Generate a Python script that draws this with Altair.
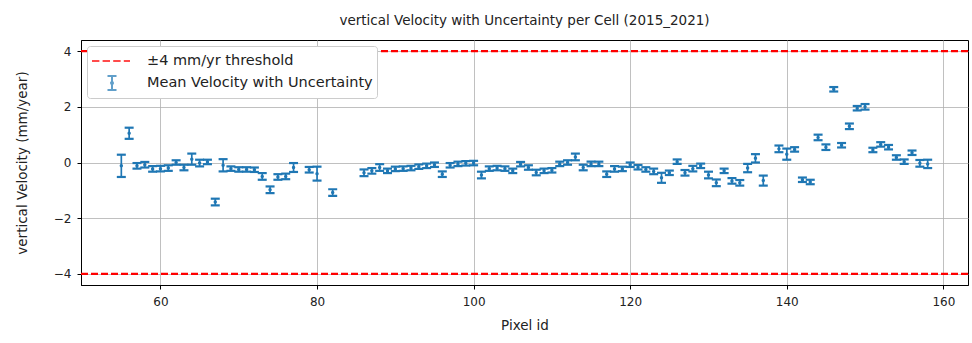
import altair as alt
import pandas as pd

# ---- data ----
pixel_ids = [55, 56, 57, 58, 59, 60, 61, 62, 63, 64, 65, 66, 67, 68, 69, 70, 71, 72, 73, 74,
             75, 76, 77, 79, 80, 82,
             86, 87, 88, 89, 90, 91, 92, 93, 94, 95, 96, 97, 98, 99, 100,
             101, 102, 103, 104, 105, 106, 107, 108, 109, 110, 111, 112, 113, 114, 115,
             116, 117, 118, 119, 120, 121, 122, 123, 124, 125, 126, 127, 128, 129, 130,
             131, 132, 133, 134, 135, 136, 137, 139, 140, 141, 142, 143, 144, 145, 146,
             147, 148, 149, 150, 151, 152, 153, 154, 155, 156, 157, 158]
velocity = [-0.12, 1.05, -0.12, -0.08, -0.23, -0.22, -0.20, 0.00, -0.18, 0.12, -0.02, 0.02, -1.42, -0.10, -0.22, -0.25, -0.25, -0.26, -0.50, -0.98,
            -0.52, -0.50, -0.18, -0.26, -0.40, -1.08,
            -0.37, -0.30, -0.18, -0.30, -0.23, -0.22, -0.20, -0.15, -0.12, -0.08, -0.42, -0.10, -0.05, -0.03, -0.02,
            -0.45, -0.22, -0.20, -0.22, -0.30, -0.06, -0.18, -0.36, -0.30, -0.28, -0.05, 0.00, 0.20, -0.18, -0.05,
            -0.05, -0.42, -0.23, -0.23, -0.08, -0.17, -0.25, -0.32, -0.55, -0.37, 0.03, -0.37, -0.22, -0.12, -0.45,
            -0.73, -0.30, -0.66, -0.73, -0.20, 0.15, -0.65, 0.49, 0.30, 0.47, -0.62, -0.70, 0.90, 0.55, 2.63,
            0.62, 1.30, 1.95, 2.00, 0.45, 0.65, 0.55, 0.18, 0.03, 0.35, -0.03, -0.05]
uncertainty = [0.40, 0.20, 0.10, 0.10, 0.10, 0.10, 0.10, 0.08, 0.10, 0.20, 0.12, 0.08, 0.12, 0.22, 0.08, 0.08, 0.08, 0.08, 0.12, 0.12,
               0.10, 0.10, 0.16, 0.10, 0.25, 0.12,
               0.12, 0.10, 0.12, 0.08, 0.08, 0.08, 0.08, 0.08, 0.08, 0.08, 0.10, 0.08, 0.08, 0.08, 0.08,
               0.12, 0.08, 0.08, 0.08, 0.08, 0.08, 0.08, 0.10, 0.08, 0.08, 0.08, 0.08, 0.12, 0.10, 0.08,
               0.08, 0.10, 0.10, 0.08, 0.08, 0.08, 0.08, 0.10, 0.18, 0.08, 0.08, 0.10, 0.10, 0.08, 0.12,
               0.12, 0.08, 0.10, 0.10, 0.15, 0.15, 0.18, 0.12, 0.20, 0.08, 0.08, 0.08, 0.10, 0.10, 0.08,
               0.08, 0.10, 0.08, 0.10, 0.08, 0.08, 0.08, 0.08, 0.08, 0.08, 0.12, 0.15]
thresholds = [4, -4]
x_ticks = [60, 80, 100, 120, 140, 160]
y_ticks = [-4, -2, 0, 2, 4]
series_names = ["±4 mm/yr threshold", "Mean Velocity with Uncertainty"]

BLUE = "#1f77b4"
RED = "#ff0000"
FONT = "DejaVu Sans"
TXT = "#222222"

df = pd.DataFrame({"id": pixel_ids, "v": velocity, "e": uncertainty})
df["lo"] = df["v"] - df["e"]
df["hi"] = df["v"] + df["e"]
thr = pd.DataFrame({"y": thresholds})

x_scale = alt.Scale(domain=[49.85, 163.15], nice=False, zero=False)
y_scale = alt.Scale(domain=[-4.4, 4.4], nice=False, zero=False)

x_enc = alt.X("id:Q", scale=x_scale,
              axis=alt.Axis(values=x_ticks, title="Pixel id", format="d", labelPadding=7,
                            titlePadding=11, labelFontSize=12, titleFontSize=13.5,
                            titleFontWeight="normal", labelFont=FONT, titleFont=FONT))
y_axis = alt.Axis(values=y_ticks, title="vertical Velocity (mm/year)", format="d",
                  labelExpr="replace(datum.label, '-', '\u2212')", labelPadding=6,
                  titlePadding=24, labelFontSize=12, titleFontSize=13.5,
                  titleFontWeight="normal", labelFont=FONT, titleFont=FONT)

bars = alt.Chart(df).mark_rule(color=BLUE, strokeWidth=1.7).encode(
    x=x_enc, y=alt.Y("lo:Q", scale=y_scale, axis=y_axis), y2="hi:Q")
cap_lo = alt.Chart(df).mark_tick(orient="horizontal", size=9, thickness=2.2, color=BLUE, opacity=1).encode(
    x="id:Q", y="lo:Q")
cap_hi = alt.Chart(df).mark_tick(orient="horizontal", size=9, thickness=2.2, color=BLUE, opacity=1).encode(
    x="id:Q", y="hi:Q")
dots = alt.Chart(df).mark_circle(size=12, color=BLUE, opacity=1).encode(x="id:Q", y="v:Q")
lines = alt.Chart(thr).mark_rule(color=RED, strokeDash=[7, 3], strokeWidth=2.3).encode(y="y:Q")

# legend symbols (unit = 10 px, symbol box centred 10 px right of the legend padding)
dash_path = "M-1,0H-0.26M0.06,0H0.8M1.12,0H1.86M2.18,0H2.8"
err_path = ("M0.55,-0.7H1.45M1,-0.7V0.7M0.55,0.7H1.45"
            "M1.1,0A0.1,0.1 0 1,1 0.9,0A0.1,0.1 0 1,1 1.1,0")

legend_layer = alt.Chart(df).transform_filter("datum.v > 1000").transform_calculate(
    s="'Mean Velocity with Uncertainty'"
).mark_point(filled=False, strokeWidth=2).encode(
    x="id:Q", y="v:Q",
    color=alt.Color("s:N", scale=alt.Scale(domain=series_names, range=[RED, BLUE]),
                    legend=alt.Legend(title=None, orient="top-left", offset=6, padding=4,
                                      fillColor="white", strokeColor="#cccccc", cornerRadius=3,
                                      symbolSize=400, symbolStrokeWidth=2, labelFontSize=14.5,
                                      labelFont=FONT, labelColor=TXT, labelOffset=34,
                                      labelLimit=0, rowPadding=4)),
    shape=alt.Shape("s:N", scale=alt.Scale(domain=series_names, range=[dash_path, err_path]),
                    legend=alt.Legend(title=None)),
)

chart = alt.layer(bars, cap_lo, cap_hi, dots, lines, legend_layer).properties(
    width=887, height=245,
    title=alt.TitleParams("vertical Velocity with Uncertainty per Cell (2015_2021)",
                          fontSize=13.5, fontWeight="normal", font=FONT, color=TXT,
                          anchor="middle", offset=13),
    autosize=alt.AutoSizeParams(type="none"),
    padding={"left": 81, "top": 40, "right": 4, "bottom": 58},
).configure(background="white").configure_view(stroke="black", strokeWidth=1).configure_axis(
    domainColor="black", tickColor="black", labelColor=TXT, titleColor=TXT,
    gridColor="#b0b0b0", gridWidth=0.8, tickSize=4,
)

chart.save("out.html", embed_options={"renderer": "svg", "actions": False})
